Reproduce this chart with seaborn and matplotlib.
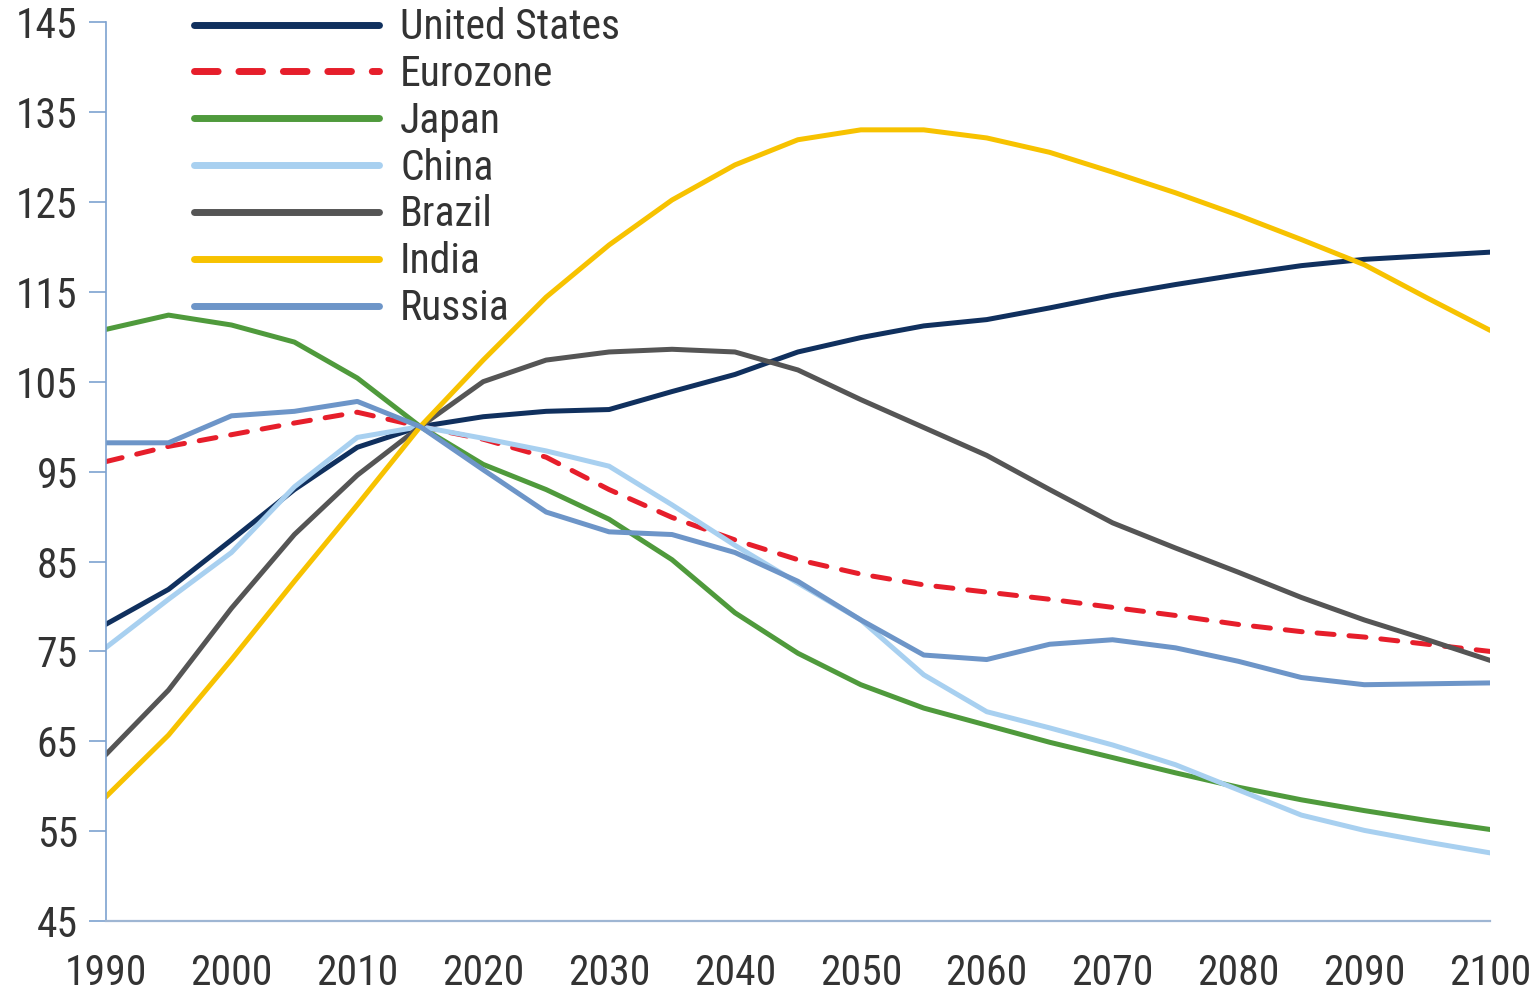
import numpy as np
import pandas as pd
import matplotlib
matplotlib.use("Agg")
import matplotlib.pyplot as plt
from matplotlib import font_manager
import seaborn as sns

# ----- Data (index, 2015 = 100) --------------------------------------------
years = list(range(1990, 2101, 5))

united_states = [78.0, 81.9, 87.4, 93.0, 97.7, 100.0, 101.1, 101.7, 101.9, 103.9,
                 105.8, 108.3, 109.9, 111.2, 111.9, 113.2, 114.6, 115.8, 116.9,
                 117.9, 118.6, 119.0, 119.4]
eurozone = [96.1, 97.8, 99.1, 100.4, 101.6, 100.0, 98.6, 96.6, 93.0, 89.9,
            87.4, 85.2, 83.6, 82.4, 81.6, 80.8, 79.9, 79.0, 78.0, 77.2,
            76.6, 75.8, 75.0]
japan = [110.8, 112.4, 111.3, 109.4, 105.4, 100.0, 95.8, 93.0, 89.7, 85.2,
         79.3, 74.8, 71.3, 68.7, 66.8, 64.9, 63.2, 61.5, 59.9, 58.5,
         57.3, 56.2, 55.2]
china = [75.4, 80.8, 86.0, 93.3, 98.8, 100.0, 98.7, 97.3, 95.6, 91.3,
         86.8, 82.6, 78.5, 72.4, 68.3, 66.5, 64.6, 62.4, 59.6, 56.8,
         55.1, 53.8, 52.6]
brazil = [63.5, 70.7, 79.8, 88.0, 94.6, 100.0, 105.0, 107.4, 108.3, 108.6,
          108.3, 106.3, 103.0, 99.9, 96.8, 93.0, 89.3, 86.5, 83.8, 81.0,
          78.5, 76.3, 74.0]
india = [58.8, 65.7, 74.1, 82.8, 91.3, 100.0, 107.4, 114.4, 120.2, 125.2,
         129.1, 131.9, 133.0, 133.0, 132.1, 130.5, 128.3, 126.0, 123.5, 120.8,
         118.0, 114.3, 110.7]
russia = [98.2, 98.2, 101.2, 101.7, 102.8, 100.0, 95.2, 90.5, 88.3, 88.0,
          86.0, 82.8, 78.5, 74.6, 74.1, 75.8, 76.3, 75.4, 73.9, 72.1,
          71.3, 71.4, 71.5]

countries = ["United States", "Eurozone", "Japan", "China", "Brazil", "India", "Russia"]
series = [united_states, eurozone, japan, china, brazil, india, russia]

y_ticks = list(range(45, 146, 10))
x_ticks = list(range(1990, 2101, 10))

colors = {
    "United States": "#10305e",
    "Eurozone": "#e61e2b",
    "Japan": "#4f9a3c",
    "China": "#a8d0f0",
    "Brazil": "#555555",
    "India": "#f7c200",
    "Russia": "#6d95c8",
}
dashes = {c: "" for c in countries}
dashes["Eurozone"] = (3.4, 3.0)

df = pd.concat(
    [pd.DataFrame({"year": years, "value": vals, "country": name})
     for name, vals in zip(countries, series)],
    ignore_index=True,
)

# ----- Font: the original uses a narrow face, take one if installed -------
installed = {(f.name, f.stretch) for f in font_manager.fontManager.ttflist}
names = {n for n, _ in installed}
family, stretch, size = "DejaVu Sans", "normal", 25
if "Liberation Sans Narrow" in names:
    family, size = "Liberation Sans Narrow", 31
elif "Roboto Condensed" in names:
    family, size = "Roboto Condensed", 30
elif ("DejaVu Sans", "condensed") in installed or ("DejaVu Sans", 75) in installed:
    family, stretch, size = "DejaVu Sans", "condensed", 28
elif "Roboto" in names:
    family, size = "Roboto", 27

# ----- Plot ----------------------------------------------------------------
sns.set_style("white")
plt.rcParams["font.family"] = [family, "DejaVu Sans"]
plt.rcParams["font.stretch"] = stretch

fig = plt.figure(figsize=(15.3, 9.97), dpi=100)
ax = fig.add_axes([0.069, 0.076, 0.905, 0.902])

sns.lineplot(
    data=df, x="year", y="value", hue="country", style="country",
    hue_order=countries, style_order=countries,
    palette=colors, dashes=dashes, linewidth=3.6, ax=ax,
)
for line in ax.lines:
    line.set_solid_capstyle("round")
    line.set_dash_capstyle("round")

ax.set_xlim(1990, 2100)
ax.set_ylim(45, 145)
ax.set_xticks(x_ticks)
ax.set_yticks(y_ticks)
ax.set_xlabel("")
ax.set_ylabel("")

spine_color = "#7da2cf"
for side in ["top", "right"]:
    ax.spines[side].set_visible(False)
ax.spines["left"].set_color(spine_color)
ax.spines["bottom"].set_color("#9fb6d3")
ax.spines["left"].set_linewidth(1.2)
ax.spines["bottom"].set_linewidth(1.6)

ax.tick_params(axis="y", direction="out", length=12, width=1.2, color=spine_color,
               labelsize=size, labelcolor="#333333", pad=8, left=True)
ax.tick_params(axis="x", length=0, labelsize=size, labelcolor="#333333", pad=23)

leg = ax.legend(
    loc="upper left", bbox_to_anchor=(0.052, 1.035), frameon=False,
    fontsize=size, handlelength=185 / (size * 100 / 72), handletextpad=0.5,
    labelspacing=0.14 * 30 / size, borderaxespad=0,
)
for t in leg.get_texts():
    t.set_color("#333333")
for h in leg.get_lines():
    h.set_linewidth(5)

fig.savefig("out.png", dpi=100)
